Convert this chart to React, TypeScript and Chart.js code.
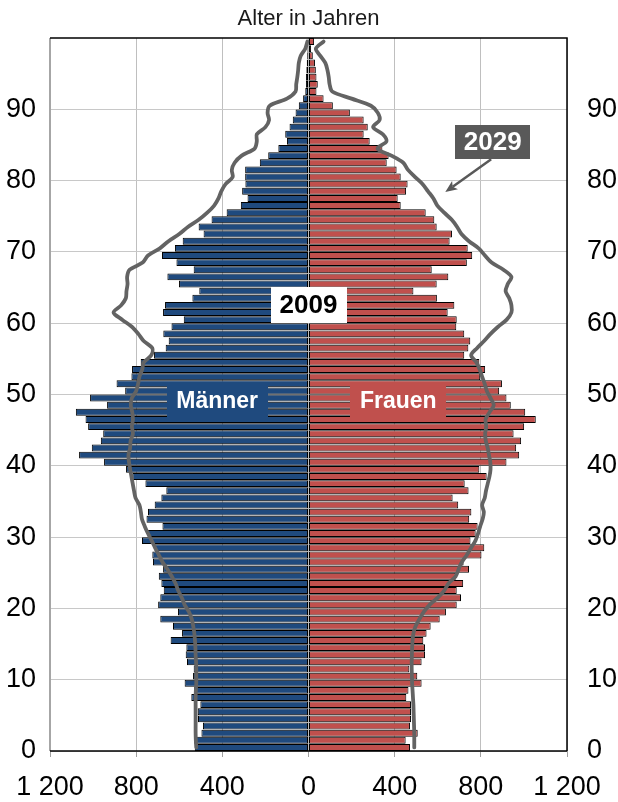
import { useEffect, useRef } from 'react';
import { Chart, registerables } from 'chart.js';

Chart.register(...registerables);

// Age categories (single years 0..99)
const ages: number[] = [
  0, 1, 2, 3, 4, 5, 6, 7, 8, 9, 10, 11, 12, 13, 14, 15, 16, 17, 18, 19,
  20, 21, 22, 23, 24, 25, 26, 27, 28, 29, 30, 31, 32, 33, 34, 35, 36, 37, 38, 39,
  40, 41, 42, 43, 44, 45, 46, 47, 48, 49, 50, 51, 52, 53, 54, 55, 56, 57, 58, 59,
  60, 61, 62, 63, 64, 65, 66, 67, 68, 69, 70, 71, 72, 73, 74, 75, 76, 77, 78, 79,
  80, 81, 82, 83, 84, 85, 86, 87, 88, 89, 90, 91, 92, 93, 94, 95, 96, 97, 98, 99,
];

// 2009 – Männer (in 1000), ages 0..99
const maenner2009: number[] = [
  528, 531, 497, 490, 513, 514, 502, 544, 531, 575,
  536, 533, 564, 570, 567, 640, 587, 629, 688, 606,
  698, 688, 672, 683, 695, 675, 722, 725, 714, 773,
  745, 678, 752, 745, 714, 683, 660, 757, 817, 847,
  949, 1065, 1006, 964, 953, 1023, 1035, 1080, 935, 1014,
  851, 891, 822, 819, 779, 717, 663, 649, 674, 636,
  579, 675, 666, 539, 507, 601, 655, 533, 613, 680,
  620, 584, 487, 510, 450, 380, 314, 283, 308, 293,
  294, 294, 226, 187, 140, 100, 108, 88, 73, 60,
  45, 25, 15, 12, 12, 10, 8, 6, 5, 3,
];

// 2009 – Frauen (in 1000), ages 0..99
const frauen2009: number[] = [
  471, 451, 507, 471, 476, 476, 476, 454, 464, 525,
  505, 468, 525, 541, 541, 533, 548, 567, 609, 638,
  688, 708, 688, 718, 684, 745, 720, 803, 816, 752,
  776, 785, 746, 756, 695, 669, 743, 725, 827, 793,
  919, 978, 964, 987, 952, 1001, 1055, 1006, 939, 919,
  885, 898, 797, 820, 793, 723, 742, 751, 723, 686,
  688, 646, 677, 596, 487, 595, 649, 572, 735, 760,
  739, 655, 666, 595, 584, 544, 428, 414, 453, 460,
  428, 409, 363, 372, 343, 284, 256, 275, 256, 192,
  113, 70, 37, 43, 37, 34, 30, 20, 12, 26,
];

// 2029 – Männer (projection), ages 0..99
const maenner2029: number[] = [
  521, 523, 524, 524, 524, 524, 524, 524, 523, 521,
  521, 521, 522, 524, 525, 527, 530, 535, 542, 555,
  575, 588, 605, 617, 635, 655, 678, 695, 712, 728,
  745, 760, 773, 778, 785, 803, 810, 816, 822, 828,
  833, 836, 828, 826, 815, 820, 815, 818, 825, 820,
  800, 791, 785, 772, 765, 730, 725, 765, 790, 820,
  865, 905, 870, 848, 845, 840, 842, 830, 770, 745,
  690, 650, 600, 560, 510, 470, 438, 418, 405, 385,
  352, 356, 343, 310, 250, 240, 240, 200, 183, 190,
  180, 100, 60, 57, 52, 48, 45, 36, 15, 5,
];

// 2029 – Frauen (projection), ages 0..99
const frauen2029: number[] = [
  491, 491, 491, 490, 489, 488, 487, 485, 483, 481,
  480, 479, 479, 480, 481, 483, 487, 497, 515, 535,
  562, 600, 630, 650, 683, 697, 712, 735, 755, 775,
  787, 797, 808, 814, 806, 818, 824, 832, 840, 845,
  844, 838, 832, 823, 820, 825, 822, 840, 860, 845,
  828, 818, 806, 795, 780, 755, 782, 815, 845, 880,
  920, 942, 942, 932, 915, 925, 942, 905, 850, 819,
  790, 745, 710, 690, 665, 630, 598, 580, 555, 530,
  495, 462, 440, 385, 320, 362, 345, 300, 330, 322,
  290, 200, 110, 98, 94, 88, 78, 55, 34, 70,
];

const xTickValues: number[] = [-1200, -800, -400, 0, 400, 800, 1200];
const yTickValues: number[] = [0, 10, 20, 30, 40, 50, 60, 70, 80, 90];

const FONT = '"Liberation Sans", Arial, Helvetica, sans-serif';
const BLUE = '#1F4A7E';
const RED = '#C0504D';
const LINE = '#636363';
const DARK = '#595959';

function fmt(v: number): string {
  const a = Math.abs(v);
  if (a >= 1000) return Math.floor(a / 1000) + ' ' + String(a % 1000).padStart(3, '0');
  return String(a);
}

function box(ctx: CanvasRenderingContext2D, cx: number, cy: number, w: number, h: number,
  fill: string, text: string, color: string, size: number) {
  ctx.fillStyle = fill;
  ctx.fillRect(Math.round(cx - w / 2), Math.round(cy - h / 2), w, h);
  ctx.fillStyle = color;
  ctx.font = `bold ${size}px ${FONT}`;
  ctx.textAlign = 'center';
  ctx.textBaseline = 'middle';
  ctx.fillText(text, cx, cy + 1);
}

const overlay = {
  id: 'overlay',
  beforeDatasetsDraw(chart: any) {
    const { ctx, chartArea: ca } = chart;
    ctx.save();
    ctx.fillStyle = '#1a1a1a';
    ctx.font = `22px ${FONT}`;
    ctx.textAlign = 'center';
    ctx.textBaseline = 'middle';
    ctx.fillText('Alter in Jahren', (ca.left + ca.right) / 2, 19);
    ctx.restore();
  },
  afterDatasetsDraw(chart: any) {
    const { ctx, chartArea: ca, scales } = chart;
    const x = scales.x;
    const y = scales.y;
    ctx.save();
    // frame
    ctx.lineWidth = 2;
    ctx.strokeStyle = '#a6a6a6';
    ctx.beginPath();
    ctx.moveTo(ca.left, ca.top);
    ctx.lineTo(ca.left, ca.bottom);
    ctx.stroke();
    ctx.lineWidth = 1.5;
    ctx.strokeStyle = '#000';
    ctx.beginPath();
    ctx.moveTo(ca.left, ca.top);
    ctx.lineTo(ca.right, ca.top);
    ctx.lineTo(ca.right, ca.bottom);
    ctx.stroke();
    ctx.beginPath();
    ctx.moveTo(ca.left, ca.bottom);
    ctx.lineTo(ca.right, ca.bottom);
    ctx.stroke();

    // labels
    box(ctx, x.getPixelForValue(0), y.getPixelForValue(62.6), 76, 36, '#ffffff', '2009', '#000', 26);
    box(ctx, x.getPixelForValue(-424), y.getPixelForValue(49.2), 101, 34, BLUE, 'Männer', '#ffffff', 23);
    box(ctx, x.getPixelForValue(417), y.getPixelForValue(49.2), 96, 34, RED, 'Frauen', '#ffffff', 23);
    box(ctx, x.getPixelForValue(855), y.getPixelForValue(85.4), 75, 34, DARK, '2029', '#ffffff', 26);

    // arrow
    const x0 = x.getPixelForValue(848), y0 = y.getPixelForValue(83.0);
    const x1 = x.getPixelForValue(635), y1 = y.getPixelForValue(78.4);
    const ang = Math.atan2(y1 - y0, x1 - x0);
    const head = 13;
    ctx.strokeStyle = DARK;
    ctx.fillStyle = DARK;
    ctx.lineWidth = 2.5;
    ctx.beginPath();
    ctx.moveTo(x0, y0);
    ctx.lineTo(x1 - Math.cos(ang) * head * 0.7, y1 - Math.sin(ang) * head * 0.7);
    ctx.stroke();
    ctx.beginPath();
    ctx.moveTo(x1, y1);
    ctx.lineTo(x1 - head * Math.cos(ang - 0.4), y1 - head * Math.sin(ang - 0.4));
    ctx.lineTo(x1 - head * 0.7 * Math.cos(ang), y1 - head * 0.7 * Math.sin(ang));
    ctx.lineTo(x1 - head * Math.cos(ang + 0.4), y1 - head * Math.sin(ang + 0.4));
    ctx.closePath();
    ctx.fill();
    ctx.restore();
  },
};

export default function App() {
  const ref = useRef<HTMLCanvasElement | null>(null);

  useEffect(() => {
    document.body.style.margin = '0';
    const canvas = ref.current;
    if (!canvas) return;

    const maleBars = ages.map((a, i) => ({ x: -maenner2009[i], y: a + 0.5 }));
    const femaleBars = ages.map((a, i) => ({ x: frauen2009[i], y: a + 0.5 }));
    const maleLine = ages.map((a, i) => ({ x: -maenner2029[i], y: a + 0.5 }));
    const femaleLine = ages.map((a, i) => ({ x: frauen2029[i], y: a + 0.5 }));

    const tickFont = { size: 27, family: FONT };

    const lineDs = (label: string, data: any[]) => ({
      type: 'line',
      label,
      data,
      borderColor: LINE,
      borderWidth: 3.8,
      pointRadius: 0,
      tension: 0.3,
      fill: false,
      order: 0,
      borderCapStyle: 'round',
      borderJoinStyle: 'round',
    });
    const barDs = (label: string, data: any[], color: string) => ({
      label,
      data,
      backgroundColor: color,
      borderColor: '#000',
      borderWidth: 1,
      borderSkipped: false,
      grouped: false,
      barPercentage: 0.97,
      categoryPercentage: 1,
      order: 1,
    });

    const chart = new Chart(canvas, {
      type: 'bar',
      data: {
        datasets: [
          lineDs('Männer 2029', maleLine),
          lineDs('Frauen 2029', femaleLine),
          barDs('Männer 2009', maleBars, BLUE),
          barDs('Frauen 2009', femaleBars, RED),
        ] as any,
      },
      options: {
        animation: false,
        responsive: false,
        indexAxis: 'y',
        layout: { padding: { top: 38 } },
        plugins: {
          legend: { display: false },
          tooltip: { enabled: false },
          title: { display: false },
        },
        scales: {
          x: {
            type: 'linear',
            position: 'bottom',
            min: -1200,
            max: 1200,
            offset: false,
            afterBuildTicks: (s: any) => { s.ticks = xTickValues.map((v) => ({ value: v })); },
            afterFit: (s: any) => { s.height = 51; },
            ticks: {
              callback: (v: any) => fmt(Number(v)),
              font: tickFont,
              color: '#000',
              padding: 14,
              maxRotation: 0,
              autoSkip: false,
            },
            grid: { color: '#bfbfbf', lineWidth: 1, drawTicks: true, tickLength: 6, tickColor: '#a0a0a0', offset: false },
            border: { display: false },
          },
          y: {
            type: 'linear',
            position: 'left',
            min: 0,
            max: 100,
            offset: false,
            afterBuildTicks: (s: any) => { s.ticks = yTickValues.map((v) => ({ value: v })); },
            afterFit: (s: any) => { s.width = 50; },
            ticks: { font: tickFont, color: '#000', padding: 14, autoSkip: false },
            grid: { color: '#c8c8c8', lineWidth: 1, drawTicks: false, offset: false },
            border: { display: false },
          },
          y2: {
            type: 'linear',
            position: 'right',
            min: 0,
            max: 100,
            offset: false,
            afterBuildTicks: (s: any) => { s.ticks = yTickValues.map((v) => ({ value: v })); },
            afterFit: (s: any) => { s.width = 51; },
            ticks: { font: tickFont, color: '#000', padding: 20, autoSkip: false },
            grid: { display: false, drawTicks: false, offset: false },
            border: { display: false },
          },
        },
      } as any,
      plugins: [overlay],
    });

    return () => chart.destroy();
  }, []);

  return (
    <div style={{ width: 618, height: 802 }}>
      <canvas ref={ref} width={618} height={802} style={{ display: 'block' }} />
    </div>
  );
}
